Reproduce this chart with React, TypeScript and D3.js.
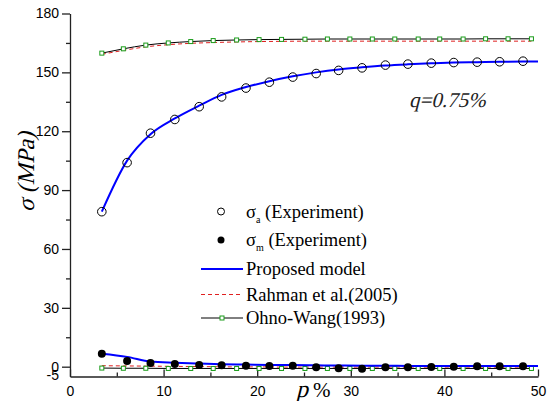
import React from 'react';
import * as d3 from 'd3';

// sigma_a experiment (open circles)
const expAX = [3.4, 6.1, 8.6, 11.2, 13.8, 16.2, 18.8, 21.3, 23.8, 26.3, 28.7, 31.2, 33.7, 36.1, 38.6, 41.0, 43.5, 45.9, 48.4];
const expA = [79, 104, 119, 126, 132.5, 137.5, 142, 145, 147.6, 149.4, 151, 152.3, 153.7, 154.2, 154.7, 155, 155.2, 155.4, 155.7];
// sigma_m experiment (filled circles)
const expM = [6.6, 2.9, 1.9, 1.4, 0.8, 0.7, 0.5, 0.4, 0.5, -0.3, -0.8, -1.0, -0.3, -0.3, -0.2, 0, 0.2, 0.2, 0.2];

// proposed model
const modelX = [3.4, 6.1, 8.6, 11.2, 13.8, 16.2, 18.8, 21.3, 23.8, 26.3, 28.7, 31.2, 33.7, 36.1, 38.6, 41.0, 43.5, 45.9, 48.4, 50];
const modelA = [79, 105, 118.5, 126.5, 133, 138.5, 142.5, 145.5, 148, 150, 151.5, 152.6, 153.5, 154.1, 154.6, 155, 155.2, 155.4, 155.5, 155.5];
const modelM = [6.6, 5.0, 2.6, 2.0, 1.6, 1.3, 1.1, 0.9, 0.8, 0.7, 0.6, 0.5, 0.45, 0.4, 0.35, 0.3, 0.3, 0.3, 0.3, 0.3];

// Rahman et al. and Ohno-Wang
const otherX = [3.4, 5.7, 8.1, 10.5, 12.9, 15.3, 17.8, 20.2, 22.6, 25.1, 27.5, 29.9, 32.3, 34.7, 37.2, 39.5, 42.0, 44.4, 46.8, 49.3];
const rahmanA = [159.2, 161.2, 163, 164.1, 164.8, 165.2, 165.5, 165.7, 165.8, 165.9, 165.9, 165.9, 165.9, 165.9, 165.9, 165.9, 165.9, 165.9, 165.9, 165.9];
const rahmanM = [0.5, 0.4, 0.3, 0.2, 0.1, 0, -0.1, -0.1, -0.2, -0.2, -0.2, -0.2, -0.2, -0.2, -0.2, -0.2, -0.2, -0.2, -0.2, -0.2];
const ohnoA = [159.8, 162, 163.9, 165, 165.7, 166.2, 166.5, 166.7, 166.8, 166.9, 167, 167, 167, 167, 167, 167, 167, 167.1, 167.1, 167.1];
const ohnoM = [-0.7, -0.8, -0.8, -0.9, -0.9, -0.9, -0.9, -0.9, -0.9, -0.9, -0.9, -0.9, -0.9, -0.9, -0.9, -0.9, -0.9, -0.9, -0.9, -0.9];

const yMajor = [0, 30, 60, 90, 120, 150, 180];
const yMinor = [15, 45, 75, 105, 135, 165];
const xMajor = [0, 10, 20, 30, 40, 50];
const xMinor = [5, 15, 25, 35, 45];

const App = () => {
  const ref = React.useRef<SVGSVGElement>(null);

  React.useEffect(() => {
    const svg = d3.select(ref.current);
    svg.selectAll('*').remove();

    const x = d3.scaleLinear().domain([0, 50]).range([70, 538]);
    const y = d3.scaleLinear().domain([-5, 180]).range([376.5, 13.5]);
    const axisColor = '#222';
    const tickFont = '"Liberation Sans", Arial, sans-serif';
    const serif = '"Liberation Serif", "Times New Roman", serif';

    // y axis
    const gy = svg.append('g').attr('transform', `translate(${x(0)},0)`);
    gy.call(d3.axisLeft(y).tickValues(yMajor).tickSizeInner(8).tickSizeOuter(0).tickPadding(3) as any);
    gy.append('g').call(d3.axisLeft(y).tickValues(yMinor).tickSize(4).tickFormat(() => '') as any)
      .select('.domain').remove();
    gy.append('text').attr('x', -11).attr('y', y(-5) - 1).attr('dy', '0.32em')
      .attr('text-anchor', 'end').attr('fill', '#000').text('-5');

    // x axis
    const gx = svg.append('g').attr('transform', `translate(0,${y(-5)})`);
    gx.call(d3.axisBottom(x).tickValues(xMajor).tickSizeInner(-7).tickSizeOuter(0).tickPadding(10) as any);
    gx.append('g').call(d3.axisBottom(x).tickValues(xMinor).tickSize(-4).tickFormat(() => '') as any)
      .select('.domain').remove();

    svg.selectAll('.domain, .tick line').attr('stroke', axisColor).attr('stroke-width', 1.3);
    svg.selectAll('.tick text').style('font-family', tickFont).attr('font-size', 14).attr('fill', '#000');
    gy.selectAll('text').style('font-family', tickFont).attr('font-size', 14);

    const plot = svg.append('g');
    const line = (xs: number[], ys: number[]) =>
      d3.line<number>().x((_, i) => x(xs[i])).y((d) => y(d)).curve(d3.curveMonotoneX)(ys);

    // Rahman dashed
    [rahmanA, rahmanM].forEach((s) => {
      plot.append('path').attr('d', line(otherX, s)).attr('fill', 'none')
        .attr('stroke', '#e02020').attr('stroke-width', 1).attr('stroke-dasharray', '4,3');
    });
    // Ohno-Wang
    [ohnoA, ohnoM].forEach((s) => {
      plot.append('path').attr('d', line(otherX, s)).attr('fill', 'none')
        .attr('stroke', '#000').attr('stroke-width', 1);
      plot.append('g').selectAll('rect').data(s).join('rect')
        .attr('x', (_, i) => x(otherX[i]) - 2).attr('y', (d) => y(d) - 2)
        .attr('width', 4).attr('height', 4)
        .attr('fill', '#fff').attr('stroke', '#1a9c1a').attr('stroke-width', 1);
    });
    // Proposed model
    [modelA, modelM].forEach((s) => {
      plot.append('path').attr('d', line(modelX, s)).attr('fill', 'none')
        .attr('stroke', '#0000ff').attr('stroke-width', 2);
    });
    // experiments
    plot.append('g').selectAll('circle').data(expA).join('circle')
      .attr('cx', (_, i) => x(expAX[i])).attr('cy', (d) => y(d)).attr('r', 4.3)
      .attr('fill', 'none').attr('stroke', '#000').attr('stroke-width', 1);
    plot.append('g').selectAll('circle').data(expM).join('circle')
      .attr('cx', (_, i) => x(expAX[i])).attr('cy', (d) => y(d)).attr('r', 4)
      .attr('fill', '#000');

    // legend
    const lg = svg.append('g').style('font-family', serif).attr('font-size', 18.5).attr('fill', '#000');
    const lx0 = 201, lx1 = 243, tx = 246;
    const rowA = 211.5, rowM = 240, rowP = 269, rowR = 294.5, rowO = 318;

    lg.append('circle').attr('cx', 221).attr('cy', rowA).attr('r', 3.5)
      .attr('fill', 'none').attr('stroke', '#000');
    lg.append('circle').attr('cx', 221).attr('cy', rowM).attr('r', 3.5).attr('fill', '#000');
    [[rowA, 'a'], [rowM, 'm']].forEach(([r, sub]) => {
      const t = lg.append('text').attr('x', tx).attr('y', (r as number) + 6);
      t.append('tspan').text('σ');
      t.append('tspan').attr('font-size', 10).attr('dy', 5).text(sub as string);
      t.append('tspan').attr('dy', -5).text(' (Experiment)');
    });
    lg.append('line').attr('x1', lx0).attr('x2', lx1).attr('y1', rowP).attr('y2', rowP)
      .attr('stroke', '#0000ff').attr('stroke-width', 2);
    lg.append('text').attr('x', tx).attr('y', rowP + 6).text('Proposed model');
    lg.append('line').attr('x1', lx0).attr('x2', lx1).attr('y1', rowR).attr('y2', rowR)
      .attr('stroke', '#e02020').attr('stroke-dasharray', '4,3');
    lg.append('text').attr('x', tx).attr('y', rowR + 6).text('Rahman et al.(2005)');
    lg.append('line').attr('x1', lx0).attr('x2', lx1).attr('y1', rowO).attr('y2', rowO)
      .attr('stroke', '#000');
    lg.append('rect').attr('x', 220).attr('y', rowO - 2).attr('width', 4).attr('height', 4)
      .attr('fill', '#fff').attr('stroke', '#1a9c1a');
    lg.append('text').attr('x', tx).attr('y', rowO + 6).text('Ohno-Wang(1993)');

    // annotations and axis titles (italic by skew, serif kept)
    const ann = svg.append('g').style('font-family', serif).attr('fill', '#000');
    ann.append('text').attr('transform', 'translate(409,107) skewX(-14)')
      .attr('font-size', 21).attr('fill', '#222').text('q=0.75%');

    ann.append('text').attr('transform', 'translate(34,172) rotate(-90) skewX(-14)')
      .attr('text-anchor', 'middle').attr('font-size', 24).text('σ (MPa)');

    ann.append('text').attr('transform', 'translate(296,397) skewX(-14)')
      .attr('font-size', 24).text('p');
    ann.append('text').attr('x', 313).attr('y', 397).attr('font-size', 21).text('%');
  }, []);

  return (
    <svg ref={ref} width={549} height={401}
      style={{ position: 'absolute', left: 0, top: 0, background: '#fff' }} />
  );
};

export default App;
